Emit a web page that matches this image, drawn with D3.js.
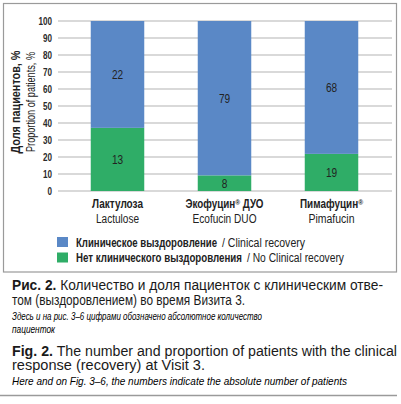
<!DOCTYPE html>
<html>
<head>
<meta charset="utf-8">
<script src="https://cdn.jsdelivr.net/npm/d3@7"></script>
<style>
  body { margin: 0; background: #fff; }
  svg { display: block; }
</style>
</head>
<body>
<svg id="chart" width="401" height="404"></svg>
<script>
const categoriesRu = ["Лактулоза", "Экофуцин® ДУО", "Пимафуцин®"];
const categoriesEn = ["Lactulose", "Ecofucin DUO", "Pimafucin"];
const noRecovery = [13, 8, 19];
const recovery = [22, 79, 68];
const yTicks = [0, 10, 20, 30, 40, 50, 60, 70, 80, 90, 100];

const seriesNames = [
  { ru: "Клиническое выздоровление", en: "/ Clinical recovery" },
  { ru: "Нет клинического выздоровления", en: "/ No Clinical recovery" }
];

const BLUE = "#5a88c6", GREEN = "#2fad67";
// no narrow font installed: squeeze a regular one to the reference widths
const SANS = "'Liberation Sans', Arial, Helvetica, sans-serif";
const squeeze = (sel, w) => sel.attr("textLength", w).attr("lengthAdjust", "spacingAndGlyphs");

const svg = d3.select("#chart");

// frame around chart
svg.append("rect")
  .attr("x", 3.5).attr("y", 3.5).attr("width", 393).attr("height", 268.5)
  .attr("fill", "none").attr("stroke", "#9a9a9a").attr("stroke-width", 1.2);

const rows = categoriesRu.map((c, i) => {
  const total = noRecovery[i] + recovery[i];
  return { ru: c, en: categoriesEn[i], no: noRecovery[i], yes: recovery[i],
           pNo: noRecovery[i] / total * 100, pYes: recovery[i] / total * 100 };
});

const x = d3.scaleBand().domain(categoriesRu).range([64, 385]).paddingInner(0.5).paddingOuter(0.25);
const y = d3.scaleLinear().domain([0, 100]).range([191, 21]);

// gridlines
svg.append("g").selectAll("line").data(yTicks).join("line")
  .attr("x1", 58).attr("x2", 392)
  .attr("y1", d => y(d)).attr("y2", d => y(d))
  .attr("stroke", "#b3b3b3").attr("stroke-width", 1);

// y axis labels
const yAxis = svg.append("g").attr("transform", "translate(58,0)")
  .call(d3.axisLeft(y).tickValues(yTicks).tickSize(0).tickPadding(6));
yAxis.select(".domain").remove();
yAxis.selectAll("text")
  .attr("font-family", SANS).attr("font-size", "11.5px").attr("font-weight", "bold")
  .attr("fill", "#2a2a2a")
  .attr("textLength", d => String(d).length * 4.5).attr("lengthAdjust", "spacingAndGlyphs");

// stacked bars
const stack = d3.stack().keys(["pNo", "pYes"])(rows);
const colors = { pNo: GREEN, pYes: BLUE };
const counts = { pNo: "no", pYes: "yes" };
stack.forEach(layer => {
  const g = svg.append("g");
  g.selectAll("rect").data(layer).join("rect")
    .attr("x", d => x(d.data.ru))
    .attr("width", x.bandwidth())
    .attr("y", d => y(d[1]))
    .attr("height", d => y(d[0]) - y(d[1]))
    .attr("fill", colors[layer.key]);
  g.selectAll("text").data(layer).join("text")
    .attr("x", d => x(d.data.ru) + x.bandwidth() / 2)
    .attr("y", d => (y(d[0]) + y(d[1])) / 2)
    .attr("dy", "0.35em")
    .attr("text-anchor", "middle")
    .attr("font-family", SANS).attr("font-size", "12.5px")
    .attr("fill", "#222")
    .attr("textLength", d => String(d.data[counts[layer.key]]).length * 5.6)
    .attr("lengthAdjust", "spacingAndGlyphs")
    .text(d => d.data[counts[layer.key]]);
});

// category labels
const ruWidths = [51, 78, 63], enWidths = [43, 64, 46];
const cat = svg.append("g").selectAll("g").data(rows).join("g")
  .attr("transform", d => `translate(${x(d.ru) + x.bandwidth() / 2},0)`);
cat.each(function (d, i) {
  const g = d3.select(this);
  const t = g.append("text").attr("y", 208).attr("text-anchor", "middle")
    .attr("font-family", SANS).attr("font-size", "12px").attr("font-weight", "bold")
    .attr("fill", "#222");
  const parts = d.ru.split("®");
  t.append("tspan").text(parts[0]);
  if (parts.length > 1) {
    t.append("tspan").attr("font-size", "8px").attr("dy", -3).text("®");
    t.append("tspan").attr("dy", 3).text(parts[1]);
  }
  squeeze(t, ruWidths[i]);
  squeeze(g.append("text").attr("y", 223).attr("text-anchor", "middle")
    .attr("font-family", SANS).attr("font-size", "12px")
    .attr("fill", "#222").text(d.en), enWidths[i]);
});

// y axis title
const yt = svg.append("g").attr("transform", "translate(0,102) rotate(-90)");
squeeze(yt.append("text").attr("x", 0).attr("y", 20).attr("text-anchor", "middle")
  .attr("font-family", SANS).attr("font-size", "12px").attr("font-weight", "bold")
  .attr("fill", "#222").text("Доля пациентов, %"), 103);
squeeze(yt.append("text").attr("x", 0).attr("y", 35).attr("text-anchor", "middle")
  .attr("font-family", SANS).attr("font-size", "12.5px")
  .attr("fill", "#222").text("Proportion of patients, %"), 100);

// legend
const legW = [[141, 83], [166, 97]];
const legend = svg.append("g").selectAll("g").data(seriesNames).join("g")
  .attr("transform", (d, i) => `translate(57,${237 + i * 15.5})`);
legend.append("rect").attr("width", 11).attr("height", 10)
  .attr("fill", (d, i) => i === 0 ? BLUE : GREEN);
legend.each(function (d, i) {
  const g = d3.select(this);
  squeeze(g.append("text").attr("x", 19).attr("y", 9.5)
    .attr("font-family", SANS).attr("font-size", "12px").attr("font-weight", "bold")
    .attr("fill", "#222").text(d.ru), legW[i][0]);
  squeeze(g.append("text").attr("x", 19 + legW[i][0] + 5).attr("y", 9.5)
    .attr("font-family", SANS).attr("font-size", "12px")
    .attr("fill", "#222").text(d.en), legW[i][1]);
});

// caption
const cap = svg.append("g").attr("fill", "#1a1a1a");
function line(yy, parts, size, len, italic) {
  const t = cap.append("text").attr("x", 12).attr("y", yy)
    .attr("font-family", SANS).attr("font-size", size + "px");
  squeeze(t, len);
  if (italic) t.attr("font-style", "italic").attr("fill", "#000");
  parts.forEach(p => t.append("tspan").attr("font-weight", p[1] ? "bold" : "normal").text(p[0]));
}
line(290, [["Рис. 2.", true], [" Количество и доля пациенток с клиническим отве-", false]], 14, 371);
line(305, [["том (выздоровлением) во время Визита 3.", false]], 14, 233);
line(320, [["Здесь и на рис. 3–6 цифрами обозначено абсолютное количество", false]], 10.5, 250, true);
line(333, [["пациенток", false]], 10.5, 43, true);
line(356, [["Fig. 2.", true], [" The number and proportion of patients with the clinical", false]], 14, 385);
line(370, [["response (recovery) at Visit 3.", false]], 14, 193);
line(385, [["Here and on Fig. 3–6, the numbers indicate the absolute number of patients", false]], 10.5, 335, true);

svg.append("line").attr("x1", 0).attr("x2", 397).attr("y1", 395.5).attr("y2", 395.5)
  .attr("stroke", "#9a9a9a").attr("stroke-width", 1.5);
</script>
</body>
</html>
